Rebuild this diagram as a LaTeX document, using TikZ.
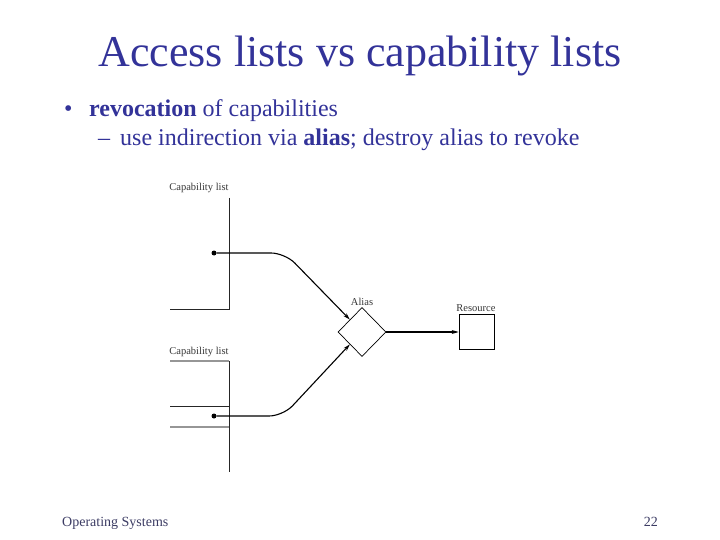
\documentclass[tikz,border=0pt]{standalone}
\usepackage{fontspec}
\setmainfont{Liberation Serif}
\usepackage{xcolor}
\usepackage{tikz}
\usetikzlibrary{arrows.meta,shapes.geometric,positioning}
\definecolor{slideblue}{RGB}{51,51,153}
\definecolor{footgray} {RGB}{60,60,100}
\definecolor{figgray}  {RGB}{150,150,150}
\definecolor{figtext}  {RGB}{55,55,55}
\tikzset{
  titletxt/.style={font=\fontsize{44}{48}\selectfont, text=slideblue, inner sep=0pt},
  bodytxt/.style ={font=\fontsize{24}{28}\selectfont, text=slideblue, inner sep=0pt},
  foottxt/.style ={font=\fontsize{14}{16}\selectfont, text=footgray, inner sep=0pt},
  lbl/.style     ={font=\fontsize{10.5}{12}\selectfont, text=figtext, inner sep=0pt},
  listline/.style={draw=black!85, line width=0.8pt},
  greyline/.style={draw=figgray, line width=1.1pt},
  dotnode/.style ={circle, fill=black, minimum size=5pt, inner sep=0pt},
  aliasbox/.style={draw, diamond, minimum width=48pt, minimum height=49pt,
                   inner sep=0pt, line width=0.7pt},
  resbox/.style  ={draw, minimum width=35pt, minimum height=35pt,
                   inner sep=0pt, line width=0.7pt},
  arr/.style     ={-{Stealth[length=7pt,width=4pt]}, line width=1.1pt},
}
\begin{document}
\begin{tikzpicture}[x=1pt,y=-1pt]
  \useasboundingbox[fill=white] (0,0) rectangle (720,540);
  %% title and bullets
  \node[titletxt, anchor=base] (title) at (360,67) {Access lists vs capability lists};
  \node[bodytxt, anchor=base west] (bul) at (64,117) {\textbullet};
  \node[bodytxt, anchor=base west] (line1) at (89,117) {\textbf{revocation} of capabilities};
  \node[bodytxt, anchor=base west] (dash) at (98,146) {--};
  \node[bodytxt, anchor=base west] (line2) at (120,146)
       {use indirection via \textbf{alias}; destroy alias to revoke};
  %% first capability list
  \node[lbl, anchor=base] (cap1) at (199,191) {Capability list};
  \draw[listline] (229,198) -- (229,309) -- (170,309);
  \node[dotnode] (dot1) at (214,253) {};
  %% second capability list
  \node[lbl, anchor=base] (cap2) at (199,354) {Capability list};
  \draw[greyline] (170,361) -- (229,361);
  \draw[listline] (229,361) -- (229,472);
  \draw[listline] (170,406) -- (229,406);
  \draw[greyline] (170,427) -- (229,427);
  \node[dotnode] (dot2) at (214,416) {};
  %% alias and resource
  \node[aliasbox] (alias) at (362,332) {};
  \node[lbl, anchor=base] (aliaslbl) at (362,305) {Alias};
  \node[resbox] (res) at (476.5,332) {};
  \node[lbl, anchor=base] (reslbl) at (476,311) {Resource};
  \draw[arr] (alias.east) -- (res.west);
  \draw[arr, rounded corners=14pt] (dot1) -- (285,253) -- (alias.north west);
  \draw[arr, rounded corners=14pt] (dot2) -- (283,416) -- (alias.south west);
  %% footer
  \node[foottxt, anchor=base west] (foot) at (62,526) {Operating Systems};
  \node[foottxt, anchor=base east] (page) at (658,526) {22};
\end{tikzpicture}
\end{document}
